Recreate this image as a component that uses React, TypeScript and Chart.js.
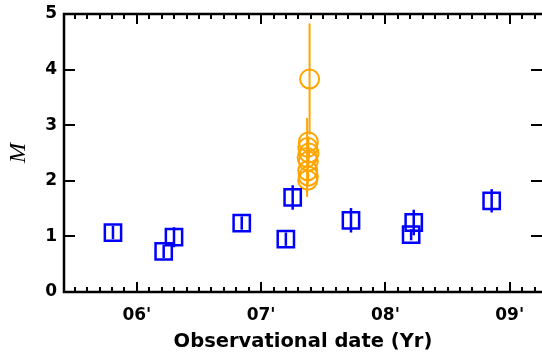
import { useEffect, useRef } from 'react';
import { Chart, registerables } from 'chart.js';
Chart.register(...registerables);

// ---- data ----
const xTickValues = [2006, 2007, 2008, 2009];
const xTickLabels = ["06'", "07'", "08'", "09'"];
const yTickValues = [0, 1, 2, 3, 4, 5];

const blueX = [2005.808, 2006.216, 2006.299, 2006.844, 2007.199, 2007.254, 2007.723, 2008.207, 2008.228, 2008.855];
const blueY = [1.07, 0.73, 0.985, 1.24, 0.95, 1.7, 1.29, 1.03, 1.25, 1.64];
const blueErr = [0.12, 0.12, 0.18, 0.12, 0.12, 0.22, 0.22, 0.1, 0.23, 0.21];

const orangeX = [2007.39, 2007.38, 2007.375, 2007.385, 2007.37, 2007.38, 2007.375, 2007.38, 2007.375];
const orangeY = [3.83, 2.7, 2.6, 2.5, 2.42, 2.35, 2.18, 2.08, 2.01];
const orangeErr = [1.0, 0.1, 0.1, 0.1, 0.71, 0.1, 0.1, 0.1, 0.1];

const X_MIN = 2005.414;
const X_MAX = 2009.26;
const Y_MIN = 0;
const Y_MAX = 5;

const BLUE = '#0000ff';
const ORANGE = '#ffa500';

const errorBars = {
  id: 'errorBars',
  beforeDatasetsDraw(chart: any) {
    const { ctx, scales, chartArea } = chart;
    const x = scales.x, y = scales.y;
    ctx.save();
    ctx.beginPath();
    ctx.rect(chartArea.left, chartArea.top, chartArea.right - chartArea.left, chartArea.bottom - chartArea.top);
    ctx.clip();
    chart.data.datasets.forEach((ds: any) => {
      ctx.strokeStyle = ds.borderColor;
      ctx.lineWidth = ds.errWidth;
      ds.data.forEach((p: any) => {
        const px = x.getPixelForValue(p.x);
        ctx.beginPath();
        ctx.moveTo(px, y.getPixelForValue(p.y - p.e));
        ctx.lineTo(px, y.getPixelForValue(p.y + p.e));
        ctx.stroke();
      });
    });
    ctx.restore();
  },
};

const frame = {
  id: 'frame',
  afterDatasetsDraw(chart: any) {
    const { ctx, scales, chartArea } = chart;
    const x = scales.x, y = scales.y;
    const { left, right, top, bottom } = chartArea;
    ctx.save();
    ctx.strokeStyle = '#000';
    ctx.lineWidth = 2;
    ctx.beginPath();
    for (let i = 0; i <= 40; i++) {
      const v = 2005.4 + i * 0.1;
      if (v < X_MIN || v > X_MAX) continue;
      const major = Math.abs(v - Math.round(v)) < 1e-6;
      const len = major ? 10 : 5;
      const px = Math.round(x.getPixelForValue(v));
      ctx.moveTo(px, bottom);
      ctx.lineTo(px, bottom - len);
      ctx.moveTo(px, top);
      ctx.lineTo(px, top + len);
    }
    yTickValues.forEach((v) => {
      const py = Math.round(y.getPixelForValue(v));
      ctx.moveTo(left, py);
      ctx.lineTo(left + 11, py);
      ctx.moveTo(right, py);
      ctx.lineTo(right - 11, py);
    });
    ctx.stroke();
    // spines: left, top, bottom (right spine lies beyond the visible window)
    ctx.lineWidth = 2.5;
    ctx.beginPath();
    ctx.moveTo(right + 2, top);
    ctx.lineTo(left, top);
    ctx.lineTo(left, bottom);
    ctx.lineTo(right + 2, bottom);
    ctx.stroke();
    ctx.restore();
  },
};

export default function App() {
  const ref = useRef<HTMLCanvasElement>(null);
  useEffect(() => {
    document.body.style.margin = '0';
    document.body.style.overflow = 'hidden';
    const tickFont = { family: 'DejaVu Sans', weight: 'bold' as const, size: 17 };
    const chart = new Chart(ref.current!, {
      type: 'scatter',
      data: {
        datasets: [
          {
            label: 'blue',
            data: blueX.map((v, i) => ({ x: v, y: blueY[i], e: blueErr[i] })) as any,
            pointStyle: 'rect',
            pointRadius: 11.5,
            borderWidth: 2.5,
            borderColor: BLUE,
            backgroundColor: 'rgba(0,0,0,0)',
            errWidth: 2.5,
          } as any,
          {
            label: 'orange',
            data: orangeX.map((v, i) => ({ x: v, y: orangeY[i], e: orangeErr[i] })) as any,
            pointStyle: 'circle',
            pointRadius: 9.5,
            borderWidth: 2,
            borderColor: ORANGE,
            backgroundColor: 'rgba(0,0,0,0)',
            errWidth: 2,
          } as any,
        ],
      },
      options: {
        animation: false,
        responsive: false,
        maintainAspectRatio: false,
        devicePixelRatio: 1,
        layout: { padding: { top: 14, right: 11, left: 0, bottom: 0 } },
        plugins: { legend: { display: false }, tooltip: { enabled: false } },
        events: [],
        scales: {
          x: {
            type: 'linear',
            min: X_MIN,
            max: X_MAX,
            grid: { display: false, drawTicks: false },
            border: { display: false },
            afterBuildTicks: (s: any) => {
              s.ticks = xTickValues.map((v) => ({ value: v }));
            },
            afterFit: (s: any) => {
              s.height = 66;
              s.paddingLeft = 0;
              s.paddingRight = 0;
            },
            ticks: {
              font: tickFont,
              color: '#000',
              padding: 13,
              maxRotation: 0,
              autoSkip: false,
              callback: (v: any) => {
                const i = xTickValues.indexOf(Number(v));
                return i >= 0 ? xTickLabels[i] : '';
              },
            },
            title: {
              display: true,
              text: 'Observational date (Yr)',
              color: '#000',
              font: { family: 'DejaVu Sans', weight: 'bold', size: 19.5 },
              padding: { top: 2, bottom: 4 },
            },
          },
          y: {
            type: 'linear',
            min: Y_MIN,
            max: Y_MAX,
            grid: { display: false, drawTicks: false },
            border: { display: false },
            afterBuildTicks: (s: any) => {
              s.ticks = yTickValues.map((v) => ({ value: v }));
            },
            afterFit: (s: any) => {
              s.width = 64;
              s.paddingTop = 0;
              s.paddingBottom = 0;
            },
            ticks: {
              font: tickFont,
              color: '#000',
              padding: 7,
              callback: (v: any) => String(v),
            },
            title: {
              display: true,
              text: 'M',
              color: '#000',
              font: { family: 'Liberation Serif', style: 'italic', size: 24 },
              padding: { top: 4, bottom: 0 },
            },
          },
        },
      },
      plugins: [errorBars, frame],
    });
    return () => chart.destroy();
  }, []);
  return (
    <div style={{ width: 542, height: 358, overflow: 'hidden' }}>
      <canvas ref={ref} width={556} height={358} style={{ display: 'block', width: 556, height: 358 }} />
    </div>
  );
}
